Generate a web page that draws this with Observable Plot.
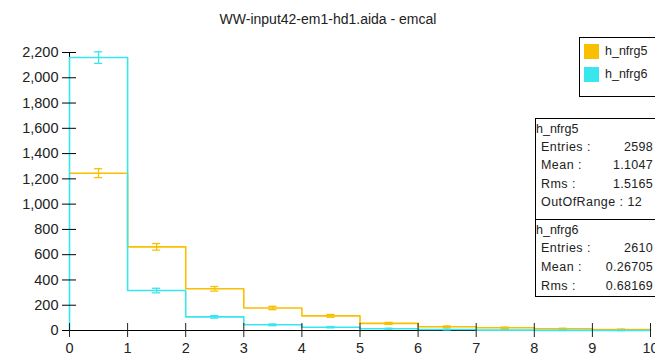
<!DOCTYPE html>
<html><head><meta charset="utf-8">
<script src="https://cdn.jsdelivr.net/npm/d3@7"></script>
<script src="https://cdn.jsdelivr.net/npm/@observablehq/plot@0.6"></script>
<style>
body{margin:0;background:#fff;overflow:hidden}
#wrap{position:relative;width:655px;height:361px;font-family:"Liberation Sans",Arial,sans-serif;overflow:hidden}
.box{position:absolute;background:#fff;border:1px solid #000;box-sizing:border-box;color:#222}
.sw{position:absolute;width:15px;height:15px}
.lt{position:absolute;font-size:12.5px;line-height:15px}
.st{position:absolute;font-size:12.5px;line-height:14px;white-space:pre;letter-spacing:0.45px}
.val{position:absolute;font-size:12.5px;line-height:14px;text-align:right;letter-spacing:0.3px}
</style></head>
<body><div id="wrap"></div>
<script>
const title = "WW-input42-em1-hd1.aida - emcal";
const binEdges = [0,1,2,3,4,5,6,7,8,9,10];
const h5Counts = [1245, 662, 330, 178, 116, 56, 30, 22, 14, 8];
const h5Errors = [35, 26, 18, 13, 11, 8, 6, 5, 4, 3];
const h6Counts = [2160, 316, 108, 45, 26, 14, 8, 3, 1, 0];
const h6Errors = [46, 18, 10, 7, 5, 4, 3, 2, 1, 0];
const yTicks = [0,200,400,600,800,1000,1200,1400,1600,1800,2000,2200];
const xTicks = [0,1,2,3,4,5,6,7,8,9,10];
const names = ["h_nfrg5","h_nfrg6"];
const colors = ["#F8C000","#38E6EE"];
const stats5 = [["Entries :","2598"],["Mean :","1.1047"],["Rms :","1.5165"],["OutOfRange : 12",""]];
const stats6 = [["Entries :","2610"],["Mean :","0.26705"],["Rms :","0.68169"]];

function steps(counts, fromZero){
  const pts = fromZero ? [{x:binEdges[0],y:0}] : [];
  counts.forEach((c,i)=>pts.push({x:binEdges[i],y:c}));
  pts.push({x:binEdges[binEdges.length-1],y:counts[counts.length-1]});
  return pts;
}
function errs(counts,errors){
  return counts.map((c,i)=>({c:(binEdges[i]+binEdges[i+1])/2,lo:c-errors[i],hi:c+errors[i]}));
}
const marks=[];
marks.push(Plot.ruleX([0],{stroke:"#000"}));
marks.push(Plot.ruleY([0],{stroke:"#000"}));
[[h5Counts,h5Errors,colors[0],false],[h6Counts,h6Errors,colors[1],true]].forEach(([cnt,er,col,fz])=>{
  marks.push(Plot.line(steps(cnt,fz),{x:"x",y:"y",curve:"step-after",stroke:col,strokeWidth:1.6}));
  const e=errs(cnt,er);
  marks.push(Plot.ruleX(e,{x:"c",y1:"lo",y2:"hi",stroke:col,strokeWidth:1.3}));
  marks.push(Plot.ruleY(e,{y:"lo",x1:d=>d.c-0.07,x2:d=>d.c+0.07,stroke:col,strokeWidth:1.3}));
  marks.push(Plot.ruleY(e,{y:"hi",x1:d=>d.c-0.07,x2:d=>d.c+0.07,stroke:col,strokeWidth:1.3}));
});
marks.push(Plot.axisY({ticks:yTicks,tickFormat:d3.format(","),tickSize:14,dx:7,tickPadding:4,fontSize:14.5,stroke:"#000",color:"#222"}));
marks.push(Plot.axisX({ticks:xTicks,tickSize:14,dy:-7,tickPadding:5,fontSize:14.5,color:"#222"}));
marks.push(Plot.text([title],{frameAnchor:"top",dy:-38,dx:-32,fontSize:14,fill:"#222"}));

const chart=Plot.plot({
  width:655,height:361,
  marginLeft:69,marginRight:5,marginTop:52,marginBottom:31,
  style:{fontFamily:"'Liberation Sans',Arial,sans-serif",background:"#fff",overflow:"visible"},
  x:{domain:[0,10]},
  y:{domain:[0,2200]},
  marks
});
const wrap=document.getElementById("wrap");
wrap.appendChild(chart);

// legend
const lg=document.createElement("div");lg.className="box";
Object.assign(lg.style,{left:"579px",top:"37px",width:"90px",height:"60px"});
names.forEach((n,i)=>{
  const s=document.createElement("div");s.className="sw";
  Object.assign(s.style,{left:"4px",top:(6+i*23)+"px",background:colors[i]});
  lg.appendChild(s);
  const t=document.createElement("div");t.className="lt";t.textContent=n;
  Object.assign(t.style,{left:"25px",top:(6+i*23)+"px"});
  lg.appendChild(t);
});
wrap.appendChild(lg);

// stats
function statBox(top,height,name,rows,step){
  const b=document.createElement("div");b.className="box";
  Object.assign(b.style,{left:"535px",top:top+"px",width:"130px",height:height+"px"});
  const h=document.createElement("div");h.className="st";h.textContent=name;
  Object.assign(h.style,{left:"0px",top:"3px",letterSpacing:"0px"});b.appendChild(h);
  rows.forEach((r,i)=>{
    const a=document.createElement("div");a.className="st";a.textContent=r[0];
    Object.assign(a.style,{left:"5px",top:(21+i*step)+"px"});b.appendChild(a);
    if(r[1]){const v=document.createElement("div");v.className="val";v.textContent=r[1];
      Object.assign(v.style,{left:"0px",width:"117px",top:(21+i*step)+"px"});b.appendChild(v);}
  });
  wrap.appendChild(b);
}
statBox(118,102,"h_nfrg5",stats5,18.3);
statBox(219,78,"h_nfrg6",stats6,19);
</script></body></html>
